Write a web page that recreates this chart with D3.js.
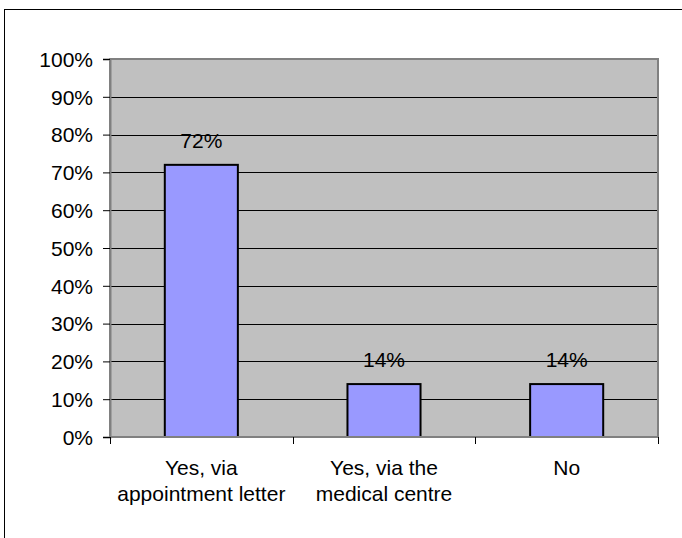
<!DOCTYPE html>
<html>
<head>
<meta charset="utf-8">
<script src="https://cdn.jsdelivr.net/npm/d3@7"></script>
<style>
  html, body { margin: 0; padding: 0; background: #fff; }
  svg { display: block; }
  text { font-family: "Liberation Sans", Arial, sans-serif; fill: #000; }
</style>
</head>
<body>
<svg id="chart" width="682" height="538"></svg>
<script>
const categories = ["Yes, via\nappointment letter", "Yes, via the\nmedical centre", "No"];
const values = [0.72, 0.14, 0.14];
const valueLabels = ["72%", "14%", "14%"];
const yTicks = [0, 0.1, 0.2, 0.3, 0.4, 0.5, 0.6, 0.7, 0.8, 0.9, 1.0];

(function () {
const svg = d3.select("#chart");
const W = 682, H = 538;
const pLeft = 110, pRight = 658, pTop = 59, pBottom = 437;
const fs = 21;

// outer border
svg.append("rect").attr("x", 4.5).attr("y", 9.5).attr("width", W).attr("height", H)
  .attr("fill", "none").attr("stroke", "#000").attr("stroke-width", 1);

const x = d3.scaleBand().domain(categories).range([pLeft, pRight]).paddingInner(0.6).paddingOuter(0.3);
const y = d3.scaleLinear().domain([0, 1]).range([pBottom, pTop]);

// plot background
svg.append("rect").attr("x", pLeft).attr("y", pTop).attr("width", pRight - pLeft).attr("height", pBottom - pTop)
  .attr("fill", "#C0C0C0");

// gridlines
svg.append("g").selectAll("line").data(yTicks.filter(d => d > 0 && d < 1)).join("line")
  .attr("x1", pLeft).attr("x2", pRight)
  .attr("y1", d => Math.round(y(d)) + 0.5).attr("y2", d => Math.round(y(d)) + 0.5)
  .attr("stroke", "#000").attr("stroke-width", 1);

// plot border
svg.append("rect").attr("x", pLeft).attr("y", pTop).attr("width", pRight - pLeft).attr("height", pBottom - pTop)
  .attr("fill", "none").attr("stroke", "#808080").attr("stroke-width", 2);

// bars
svg.append("g").selectAll("rect").data(values).join("rect")
  .attr("x", (d, i) => x(categories[i]))
  .attr("y", d => y(d))
  .attr("width", x.bandwidth())
  .attr("height", d => pBottom - y(d))
  .attr("fill", "#9999FF").attr("stroke", "#000").attr("stroke-width", 2);

// value labels
svg.append("g").selectAll("text").data(values).join("text")
  .attr("x", (d, i) => x(categories[i]) + x.bandwidth() / 2)
  .attr("y", d => y(d) - 17)
  .attr("text-anchor", "middle").attr("font-size", fs)
  .text((d, i) => valueLabels[i]);

// y axis
const yAxis = d3.axisLeft(y).tickValues(yTicks).tickSize(7).tickPadding(10)
  .tickFormat(d3.format(".0%"));
const ya = svg.append("g").attr("transform", `translate(${pLeft},0)`).call(yAxis);
ya.select(".domain").attr("stroke", "#808080").attr("stroke-width", 2);
ya.selectAll(".tick line").attr("stroke", "#000");
ya.selectAll(".tick text").attr("font-size", fs).attr("font-family", '"Liberation Sans", Arial, sans-serif')
  .attr("fill", "#000").attr("dy", "0.35em");

// x axis ticks at category boundaries
const step = x.step();
const bounds = d3.range(categories.length + 1).map(i => pLeft + i * step);
svg.append("line").attr("x1", pLeft).attr("x2", pRight).attr("y1", pBottom).attr("y2", pBottom)
  .attr("stroke", "#808080").attr("stroke-width", 2);
svg.append("g").selectAll("line").data(bounds).join("line")
  .attr("x1", d => Math.round(d) + 0.5).attr("x2", d => Math.round(d) + 0.5)
  .attr("y1", pBottom).attr("y2", pBottom + 7)
  .attr("stroke", "#000").attr("stroke-width", 1);

// category labels
const cl = svg.append("g").selectAll("text").data(categories).join("text")
  .attr("text-anchor", "middle").attr("font-size", fs)
  .attr("x", d => x(d) + x.bandwidth() / 2)
  .attr("y", 475);
cl.selectAll("tspan").data(d => d.split("\n")).join("tspan")
  .attr("x", function () { return d3.select(this.parentNode).attr("x"); })
  .attr("dy", (d, i) => i === 0 ? 0 : 25.5)
  .text(d => d);
})();
</script>
</body>
</html>
